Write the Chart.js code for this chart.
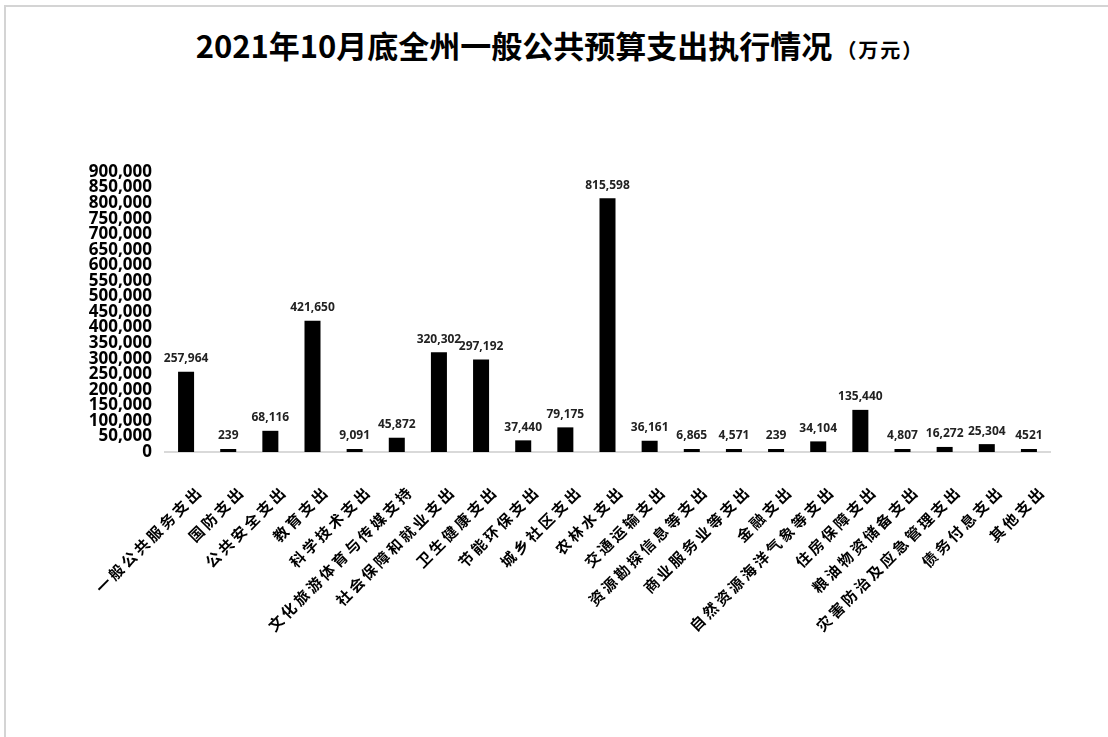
<!DOCTYPE html>
<html><head><meta charset="utf-8">
<script src="https://cdn.jsdelivr.net/npm/chart.js@4.4.0/dist/chart.umd.min.js"></script>
<style>
html,body{margin:0;padding:0;background:#fff;}
#wrap{position:relative;width:1108px;height:737px;overflow:hidden;background:#fff;}
#frame{position:absolute;left:4px;top:5px;width:1200px;height:800px;border-top:2px solid #d4d4d4;border-left:2px solid #d4d4d4;}
#title{position:absolute;top:25px;left:6px;width:1108px;text-align:center;font-family:"Noto Sans CJK SC";font-weight:700;font-size:31px;line-height:40px;color:#000;white-space:nowrap;}
#title span{font-size:20px;letter-spacing:2px;margin-left:4px;}
canvas{position:absolute;left:0;top:0;}
</style></head>
<body>
<div id="wrap">
<div id="frame"></div>
<div id="title">2021年10月底全州一般公共预算支出执行情况<span>（万元）</span></div>
<canvas id="c" width="1108" height="737"></canvas>
</div>
<script>
const categories = ["一般公共服务支出","国防支出","公共安全支出","教育支出","科学技术支出","文化旅游体育与传媒支持","社会保障和就业支出","卫生健康支出","节能环保支出","城乡社区支出","农林水支出","交通运输支出","资源勘探信息等支出","商业服务业等支出","金融支出","自然资源海洋气象等支出","住房保障支出","粮油物资储备支出","灾害防治及应急管理支出","债务付息支出","其他支出"];
const values = [257964,239,68116,421650,9091,45872,320302,297192,37440,79175,815598,36161,6865,4571,239,34104,135440,4807,16272,25304,4521];
const valueText = ["257,964","239","68,116","421,650","9,091","45,872","320,302","297,192","37,440","79,175","815,598","36,161","6,865","4,571","239","34,104","135,440","4,807","16,272","25,304","4521"];
const yMin = 0, yMax = 900000, yStep = 50000;

const labelPlugin = {
  id: 'valueLabels',
  afterDatasetsDraw(chart) {
    const ctx = chart.ctx;
    const meta = chart.getDatasetMeta(0);
    ctx.save();
    ctx.letterSpacing = '0px';
    ctx.font = '700 12px "Open Sans"';
    ctx.fillStyle = '#222';
    ctx.textAlign = 'center';
    ctx.textBaseline = 'middle';
    meta.data.forEach((bar, i) => {
      ctx.fillText(valueText[i], bar.x, bar.y - 13);
    });
    ctx.restore();
    ctx.letterSpacing = '3px';
  },
  afterDraw(chart) {
    chart.ctx.letterSpacing = '0px';
  }
};

new Chart(document.getElementById('c'), {
  type: 'bar',
  data: {
    labels: categories,
    datasets: [{
      data: values,
      backgroundColor: '#000',
      barPercentage: 0.38,
      categoryPercentage: 1.0,
      minBarLength: 3
    }]
  },
  options: {
    responsive: false,
    animation: false,
    devicePixelRatio: 1,
    layout: { padding: { top: 172, right: 58, left: 0, bottom: 0 } },
    plugins: { legend: { display: false }, tooltip: { enabled: false }, title: { display: false } },
    scales: {
      x: {
        grid: { display: false, drawTicks: false },
        border: { display: true, color: '#d9d9d9', width: 2 },
        ticks: {
          autoSkip: false, maxRotation: 45, minRotation: 45,
          font: { family: '"Noto Sans CJK SC"', size: 15, weight: 'bold' },
          color: '#000', padding: 30, labelOffset: 14, z: 1
        },
        afterFit(s) { s.height = 285; }
      },
      y: {
        min: yMin, max: yMax,
        grid: { display: false, drawTicks: false },
        border: { display: false },
        ticks: {
          stepSize: yStep, autoSkip: false,
          font: { family: '"Open Sans"', size: 17, weight: 'bold' },
          color: '#000', padding: 13,
          callback: v => v.toLocaleString('en-US')
        },
        afterFit(s) { s.width = 165; }
      }
    }
  },
  plugins: [labelPlugin]
});
</script>
</body></html>
